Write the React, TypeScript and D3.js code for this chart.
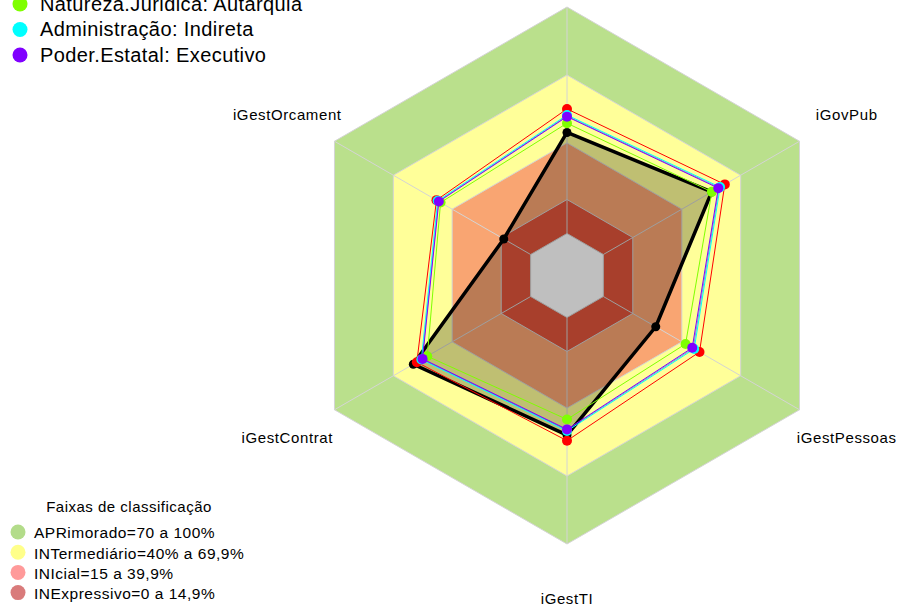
import React from "react";
import * as d3 from "d3";

const axes = ["", "iGovPub", "iGestPessoas", "iGestTI", "iGestContrat", "iGestOrcament"];

const bandLevels = [100, 70, 40, 15, 0];
const bandColors = ["#bae08c", "#ffff99", "#f9a572", "#e0553b", "#ffffff"];

const seriesColors = ["#000000", "#ff0000", "#3050ff", "#00ffff", "#7fff00", "#8000ff"];
const blackValues = [44.6, 55.2, 26.7, 51.9, 59.8, 13.7];
const redValues = [55.0, 61.9, 49.0, 54.4, 58.0, 48.0];
const blueValues = [51.9, 59.0, 45.8, 49.7, 55.4, 47.0];
const cyanValues = [52.3, 59.5, 46.3, 50.1, 55.7, 47.4];
const greenValues = [48.7, 55.3, 41.9, 45.0, 52.7, 45.9];
const purpleValues = [51.6, 58.6, 45.3, 49.4, 55.1, 46.8];
const seriesValues = [blackValues, redValues, blueValues, cyanValues, greenValues, purpleValues];

const topLegendNames = ["Natureza.Juridica: Autarquia", "Administração: Indireta", "Poder.Estatal: Executivo"];
const topLegendColors = ["#7fff00", "#00ffff", "#8000ff"];

const bandLegendTitle = "Faixas de classificação";
const bandLegendNames = ["APRimorado=70 a 100%", "INTermediário=40% a 69,9%", "INIcial=15 a 39,9%", "INExpressivo=0 a 14,9%"];
const bandLegendColors = ["#b3dc8a", "#ffff8a", "#ff9a9a", "#d97b7b"];

const W = 900;
const H = 607;
const cx = 567;
const cy = 275.5;
const r = d3.scaleLinear().domain([0, 100]).range([42, 268.5]);
const ang = d3.scaleLinear().domain([0, axes.length]).range([0, 2 * Math.PI]);

function pt(i: number, v: number): [number, number] {
  const a = ang(i);
  const rr = r(v);
  return [cx + rr * Math.sin(a), cy - rr * Math.cos(a)];
}
function rawPt(i: number, rr: number): [number, number] {
  const a = ang(i);
  return [cx + rr * Math.sin(a), cy - rr * Math.cos(a)];
}

const line = d3.line<[number, number]>().curve(d3.curveLinearClosed);

export default function App() {
  const font = "'Liberation Sans', Arial, sans-serif";
  return (
    <svg width={W} height={H} style={{ position: "absolute", left: 0, top: 0, background: "#fff" }} fontFamily={font}>
      {bandLevels.map((lv, k) => (
        <path
          key={"b" + k}
          d={line(axes.map((_, i) => pt(i, lv))) || ""}
          fill={bandColors[k]}
          stroke="#d4d4d4"
          strokeWidth={1}
        />
      ))}
      {axes.map((_, i) => {
        const [x1, y1] = pt(i, 0);
        const [x2, y2] = pt(i, 100);
        return <line key={"s" + i} x1={x1} y1={y1} x2={x2} y2={y2} stroke="#d4d4d4" strokeWidth={1} />;
      })}
      <path d={line(blackValues.map((v, i) => pt(i, v))) || ""} fill="rgba(0,0,0,0.25)" stroke="none" />
      {seriesValues.map((vals, s) => (
        <g key={"ser" + s}>
          <path
            d={line(vals.map((v, i) => pt(i, v))) || ""}
            fill="none"
            stroke={seriesColors[s]}
            strokeWidth={s === 0 ? 3.5 : 1}
            strokeOpacity={s === 2 ? 0.6 : 1}
            strokeLinejoin="round"
          />
          {vals.map((v, i) => {
            const [x, y] = pt(i, v);
            return <circle key={i} cx={x} cy={y} r={s === 0 ? 4.5 : s === 2 ? 0 : 5} fill={seriesColors[s]} />;
          })}
        </g>
      ))}
      {axes.map((name, i) =>
        name ? (
          <text key={"l" + i} x={rawPt(i, 323)[0]} y={rawPt(i, 323)[1]} textAnchor="middle" dominantBaseline="central" fontSize={15} letterSpacing={0.6} fill="#000">
            {name}
          </text>
        ) : null
      )}
      {topLegendNames.map((n, k) => (
        <g key={"tl" + k}>
          <circle cx={20} cy={4 + k * 25.5} r={7.5} fill={topLegendColors[k]} />
          <text x={40} y={10.5 + k * 25.5} fontSize={20} letterSpacing={0.4} fill="#000">
            {n}
          </text>
        </g>
      ))}
      <text x={129} y={512} textAnchor="middle" fontSize={15} letterSpacing={0.5} fill="#000">
        {bandLegendTitle}
      </text>
      {bandLegendNames.map((n, k) => (
        <g key={"bl" + k}>
          <circle cx={18} cy={532 + k * 20.2} r={7.5} fill={bandLegendColors[k]} />
          <text x={34} y={538.3 + k * 20.3} fontSize={15.5} letterSpacing={0.5} fill="#000">
            {n}
          </text>
        </g>
      ))}
    </svg>
  );
}
